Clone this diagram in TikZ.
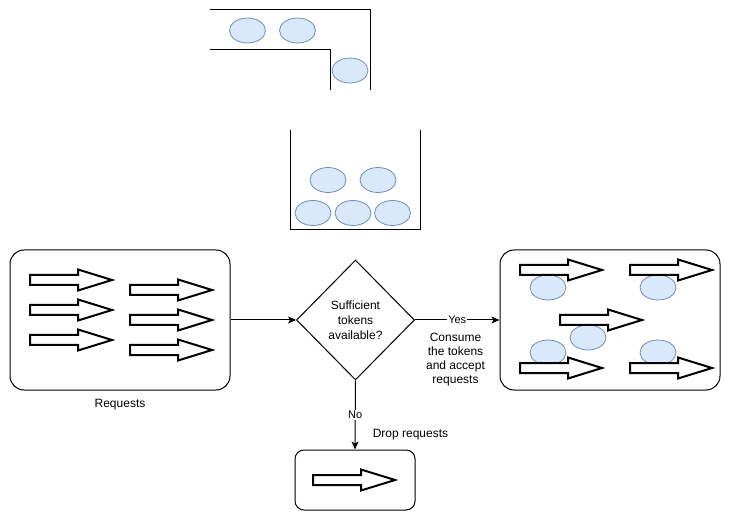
\documentclass[tikz,border=0pt]{standalone}
\usepackage{fontspec}
\setmainfont{Liberation Sans}
\usetikzlibrary{shapes.geometric,arrows.meta}
\definecolor{tokfill}{HTML}{DAE8FC}
\definecolor{tokstroke}{HTML}{6C8EBF}
\tikzset{
  token/.style={ellipse, draw=tokstroke, fill=tokfill, minimum width=36pt, minimum height=25pt, inner sep=0pt, line width=0.8pt},
  box/.style={draw, rounded corners=14pt, line width=1pt, inner sep=0pt},
  smallbox/.style={draw, rounded corners=9pt, line width=1pt, inner sep=0pt},
  pipe/.style={line width=1pt},
  conn/.style={line width=1pt, -{Stealth[length=8pt,width=7pt,inset=2pt]}},
  lbl/.style={font=\fontsize{12}{14}\selectfont, align=center, inner sep=0pt},
  edgelbl/.style={font=\fontsize{11}{13}\selectfont, fill=white, inner sep=1pt},
  pics/blockarrow/.style={code={\draw[line width=2pt, fill=white, line join=miter] (0,-5) -- (48,-5) -- (48,-10.5) -- (82,0) -- (48,10.5) -- (48,5) -- (0,5) -- cycle;}}
}
\begin{document}
\begin{tikzpicture}[x=1pt,y=-1pt]
\useasboundingbox (0,0) rectangle (731,521);

% pipe at top
\draw[pipe] (210,10) -- (370,10) -- (370,90);
\draw[pipe] (210,50) -- (330,50) -- (330,90);
\node[token] (p1) at (247.5,30.5) {};
\node[token] (p2) at (297.5,30.5) {};
\node[token] (p3) at (350,70.5) {};

% bucket
\draw[pipe] (290,130) -- (290,230) -- (420,230) -- (420,130);
\node[token] (b1) at (328,180) {};
\node[token] (b2) at (378,180) {};
\node[token] (b3) at (313,213) {};
\node[token] (b4) at (353,213) {};
\node[token] (b5) at (392.5,213) {};

% requests box
\node[box, minimum width=220pt, minimum height=140pt] (req) at (120,320) {};
\pic at (30,280) {blockarrow};
\pic at (30,310) {blockarrow};
\pic at (30,340) {blockarrow};
\pic at (130,290) {blockarrow};
\pic at (130,320) {blockarrow};
\pic at (130,350) {blockarrow};
\node[lbl] (reqlbl) at (120,405) {Requests};

% decision
\node[diamond, draw, line width=1pt, minimum width=118pt, minimum height=120pt, inner sep=0pt, align=center, font=\fontsize{12}{15}\selectfont] (dec) at (355.5,320) {Sufficient\\tokens\\available?};

% accepted box
\node[box, minimum width=220pt, minimum height=140pt] (acc) at (610,320) {};
\node[token] (a1) at (548,287.5) {};
\node[token] (a2) at (658,287.5) {};
\node[token] (a3) at (588,337.5) {};
\node[token] (a4) at (548,352.5) {};
\node[token] (a5) at (658,352.5) {};
\pic at (520,270) {blockarrow};
\pic at (630,270) {blockarrow};
\pic at (560,320) {blockarrow};
\pic at (520,368) {blockarrow};
\pic at (630,368) {blockarrow};
\node[lbl] (acclbl) at (455.5,360) {Consume\\the tokens\\and accept\\requests};

% drop box
\node[smallbox, minimum width=120pt, minimum height=60pt] (drop) at (355,480) {};
\pic at (313,480) {blockarrow};
\node[lbl] (droplbl) at (410.5,435) {Drop requests};

% connectors
\draw[conn] (req.east) -- (dec.west);
\draw[conn] (dec.east) -- node[edgelbl] {Yes} (acc.west);
\draw[conn] (dec.south) -- node[edgelbl] {No} (drop.north);
\end{tikzpicture}
\end{document}
